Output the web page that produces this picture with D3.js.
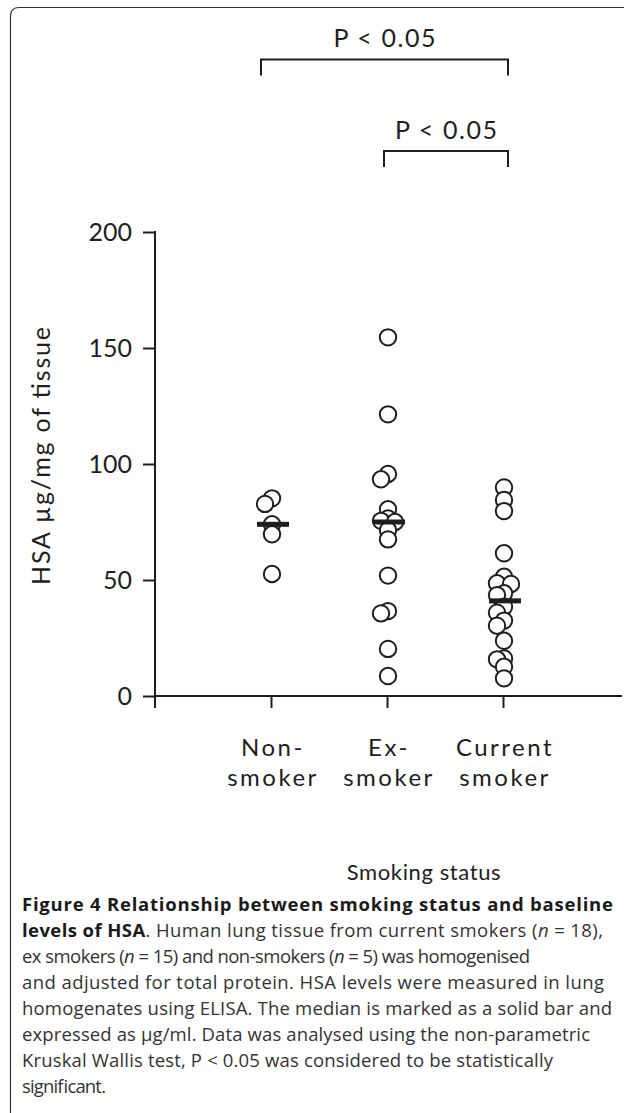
<!DOCTYPE html>
<html>
<head>
<meta charset="utf-8">
<script src="https://cdn.jsdelivr.net/npm/d3@7"></script>
<style>
  body { margin: 0; background: #fff; }
  svg text { font-family: Lato, "Open Sans", sans-serif; }
  svg text.caption { font-family: "Open Sans", "Noto Sans", sans-serif; }
</style>
</head>
<body>
<div id="chart-area"></div>
<script>
// ---- data ----
const categories = ["Non-smoker", "Ex-smoker", "Current smoker"];
const categoryLines = [["Non-", "smoker"], ["Ex-", "smoker"], ["Current", "smoker"]];

const nonSmoker = [85.2, 82.8, 74.0, 69.7, 52.6];
const exSmoker = [154.6, 121.4, 95.7, 93.4, 80.5, 76.5, 75.5, 75.0, 71.5, 67.5, 51.9, 36.6, 35.6, 20.3, 8.6];
const currentSmoker = [89.9, 84.5, 79.7, 61.5, 51.4, 48.6, 48.3, 44.3, 43.5, 38.5, 35.9, 32.5, 30.3, 23.8, 16.2, 15.8, 12.6, 7.6];

const yTicks = [0, 50, 100, 150, 200];
const yLabel = "HSA µg/mg of tissue";
const xLabel = "Smoking status";

const comparisons = [
  { from: "Non-smoker", to: "Current smoker", label: "P < 0.05" },
  { from: "Ex-smoker", to: "Current smoker", label: "P < 0.05" }
];

const captionLines = [
  [{ t: "Figure 4 Relationship between smoking status and baseline", b: true }],
  [{ t: "levels of HSA", b: true }, { t: ". Human lung tissue from current smokers (" }, { t: "n", i: true }, { t: " = 18)," }],
  [{ t: "ex smokers (" }, { t: "n", i: true }, { t: " = 15) and non-smokers (" }, { t: "n", i: true }, { t: " = 5) was homogenised" }],
  [{ t: "and adjusted for total protein. HSA levels were measured in lung" }],
  [{ t: "homogenates using ELISA. The median is marked as a solid bar and" }],
  [{ t: "expressed as µg/ml. Data was analysed using the non-parametric" }],
  [{ t: "Kruskal Wallis test, P < 0.05 was considered to be statistically" }],
  [{ t: "significant." }]
];
const captionWidths = [591, 581, 508, 582, 590, 568, 531, 84];

const groups = [nonSmoker, exSmoker, currentSmoker];

// ---- layout ----
const W = 624, H = 1113;
const ink = "#1e1e1e";

const svg = d3.select("#chart-area")
  .append("svg")
  .attr("width", W)
  .attr("height", H);

svg.append("rect").attr("width", W).attr("height", H).attr("fill", "#fff");

// frame (rounded top-left corner)
svg.append("path")
  .attr("d", "M10.5,1113 V16 Q10.5,7.5 19,7.5 H624")
  .attr("fill", "none")
  .attr("stroke", "#333")
  .attr("stroke-width", 1.2);

let x = d3.scalePoint().domain(categories).range([155, 619]).padding(1);
let y = d3.scaleLinear().domain([0, 200]).range([696, 232]);

// ---- axes ----
let yAxis = d3.axisLeft(y).tickValues(yTicks).tickSize(12).tickPadding(11).tickSizeOuter(0);
let yAxisGroup = svg.append("g").attr("class", "y-axis axis")
  .attr("transform", "translate(155,0)")
  .call(yAxis);
yAxisGroup.select(".domain").attr("d", "M0,231V708");
yAxisGroup.selectAll("line, .domain").attr("stroke", ink).attr("stroke-width", 2);
yAxisGroup.selectAll("text")
  .attr("fill", ink)
  .style("font-family", "Lato, sans-serif")
  .style("font-size", "25px");

let xAxis = d3.axisBottom(x).tickSize(12).tickSizeOuter(0).tickFormat("");
let xAxisGroup = svg.append("g").attr("class", "x-axis axis")
  .attr("transform", "translate(0,696)")
  .call(xAxis);
xAxisGroup.select(".domain").attr("d", "M155,0H622");
xAxisGroup.selectAll("line, .domain").attr("stroke", ink).attr("stroke-width", 2);

// two-line category labels
categories.forEach(function(c, i) {
  let t = svg.append("text")
    .attr("text-anchor", "middle")
    .attr("fill", ink)
    .style("font-size", "24px")
    .style("letter-spacing", "2.5px");
  categoryLines[i].forEach(function(line, j) {
    t.append("tspan")
      .attr("x", x(c) + 2)
      .attr("y", 756 + j * 30)
      .text(line);
  });
});

// axis titles
svg.append("text")
  .attr("x", 424)
  .attr("y", 880)
  .attr("text-anchor", "middle")
  .attr("fill", ink)
  .style("font-size", "22px")
  .style("letter-spacing", "0.6px")
  .text(xLabel);

svg.append("text")
  .attr("transform", "translate(50,456) rotate(-90)")
  .attr("text-anchor", "middle")
  .attr("fill", ink)
  .style("font-size", "25px")
  .attr("textLength", 258)
  .attr("lengthAdjust", "spacing")
  .text(yLabel);

// ---- points (spread sideways when they collide) ----
const r = 8.2;
function spread(values, cx) {
  let placed = [];
  values.slice().sort(d3.descending).forEach(function(v) {
    let cy = y(v);
    let best = null, bestD = -1;
    for (let off of [0, -7, 7]) {
      let d = d3.min(placed, p => Math.hypot(p.x - (cx + off), p.y - cy));
      if (d === undefined) d = Infinity;
      if (d >= 8) { best = off; bestD = d; break; }
      if (d > bestD) { bestD = d; best = off; }
    }
    placed.push({ x: cx + best, y: cy, v: v });
  });
  return placed;
}

categories.forEach(function(c, i) {
  let pts = spread(groups[i], x(c) + 1);
  svg.append("g").selectAll("circle")
    .data(pts)
    .enter()
    .append("circle")
    .attr("cx", d => d.x)
    .attr("cy", d => d.y)
    .attr("r", r)
    .attr("fill", "#fff")
    .attr("stroke", ink)
    .attr("stroke-width", 2);

  // median bar
  let m = d3.median(groups[i]);
  svg.append("rect")
    .attr("x", x(c) + 2 - 16)
    .attr("y", y(m) - 2.5)
    .attr("width", 32)
    .attr("height", 5)
    .attr("fill", ink);
});

// ---- significance brackets ----
const bracketLevels = [59.5, 151];
comparisons.forEach(function(cmp, i) {
  let x0 = cmp.from === "Non-smoker" ? x(cmp.from) - 10 : x(cmp.from) - 3;
  let x1 = x(cmp.to) + 5;
  let yb = bracketLevels[i];
  svg.append("path")
    .attr("d", "M" + x0 + "," + (yb + 16) + "V" + yb + "H" + x1 + "V" + (yb + 16))
    .attr("fill", "none")
    .attr("stroke", ink)
    .attr("stroke-width", 2);
  svg.append("text")
    .attr("x", (x0 + x1) / 2)
    .attr("y", yb - 12.5)
    .attr("text-anchor", "middle")
    .attr("fill", ink)
    .style("font-size", "25px")
    .attr("textLength", 102)
    .attr("lengthAdjust", "spacing")
    .text(cmp.label);
});

// ---- caption ----
captionLines.forEach(function(line, i) {
  let t = svg.append("text")
    .attr("class", "caption")
    .attr("x", 22)
    .attr("y", 911 + i * 26)
    .style("font-size", "18.5px")
    .attr("fill", "#333")
    .attr("textLength", captionWidths[i])
    .attr("lengthAdjust", "spacing");
  line.forEach(function(seg) {
    t.append("tspan")
      .style("font-weight", seg.b ? "bold" : null)
      .style("font-style", seg.i ? "italic" : null)
      .attr("fill", seg.b ? "#1a1a1a" : "#333")
      .text(seg.t);
  });
});
</script>
</body>
</html>
